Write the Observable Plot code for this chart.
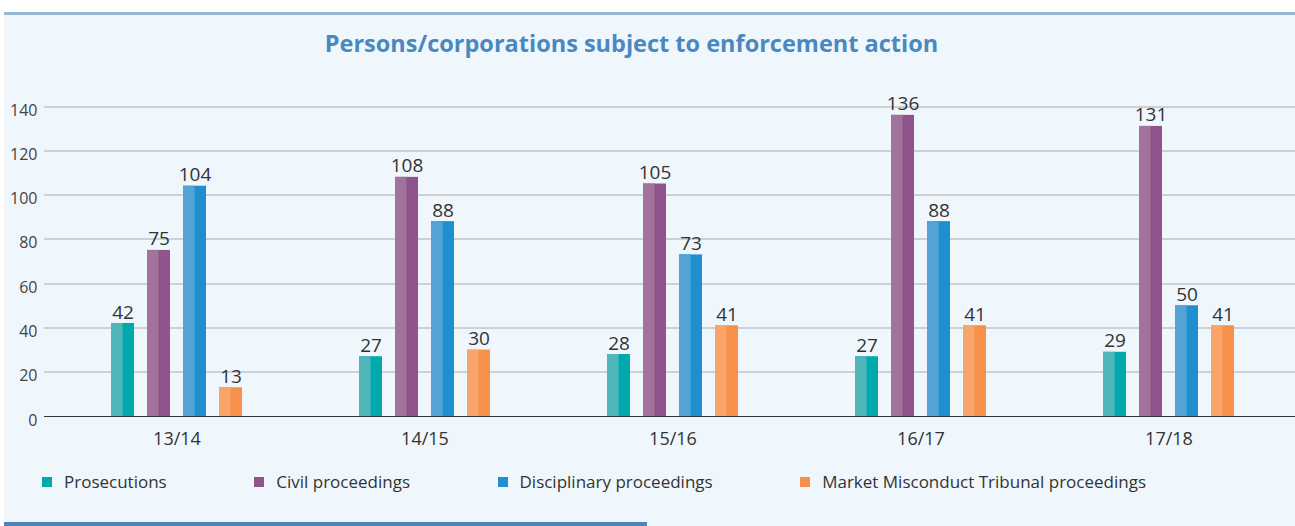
<!DOCTYPE html>
<html>
<head>
<meta charset="utf-8">
<script src="https://cdn.jsdelivr.net/npm/d3@7"></script>
<script src="https://cdn.jsdelivr.net/npm/@observablehq/plot@0.6"></script>
<style>
  html, body { margin: 0; padding: 0; background: #ffffff; }
  body { width: 1295px; height: 526px; position: relative; overflow: hidden; font-family: "Open Sans", sans-serif; }
  #panel { position: absolute; left: 4px; top: 12px; width: 1291px; height: 514px; background: #eff7fd; border-top: 3px solid #98b8d8; box-sizing: border-box; }
  #title { position: absolute; left: 0; top: 28px; width: 1263px; text-align: center; font-weight: 700; font-size: 23.5px; color: #4a88c0; line-height: 30px; }
  #chart { position: absolute; left: 4px; top: 80px; }
  #legend { position: absolute; left: 42px; top: 470px; display: flex; align-items: center; font-size: 17px; color: #333; }
  .item { display: flex; align-items: center; margin-right: 87.5px; }
  .sw { width: 10px; height: 10px; margin-right: 12px; }
  #bottomBar { position: absolute; left: 4px; top: 522px; width: 643px; height: 4px; background: #4a84bc; }
</style>
</head>
<body>
<div id="panel"></div>
<div id="title">Persons/corporations subject to enforcement action</div>
<div id="chart"></div>
<div id="legend"></div>
<div id="bottomBar"></div>
<script>
const years = ["13/14", "14/15", "15/16", "16/17", "17/18"];
const series = ["Prosecutions", "Civil proceedings", "Disciplinary proceedings", "Market Misconduct Tribunal proceedings"];
const prosecutions = [42, 27, 28, 27, 29];
const civil = [75, 108, 105, 136, 131];
const disciplinary = [104, 88, 73, 88, 50];
const mmt = [13, 30, 41, 41, 41];
const yTicks = [0, 20, 40, 60, 80, 100, 120, 140];
const darkColors = ["#00a9ac", "#8f548b", "#1f8fcf", "#f7904a"];
const lightColors = ["#4fb7b9", "#a0729c", "#53a3d9", "#f9a56a"];

const valuesBySeries = [prosecutions, civil, disciplinary, mmt];
const data = years.flatMap((yr, i) => series.map((s, j) => ({year: yr, series: s, value: valuesBySeries[j][i]})));

const darkBars = series.map((s, j) => Plot.barY(data.filter(d => d.series === s), {fx: "year", x: "series", y: "value", fill: darkColors[j]}));
const lightBars = series.map((s, j) => Plot.barY(data.filter(d => d.series === s), {fx: "year", x: "series", y: "value", fill: lightColors[j], insetRight: 11.5}));

const chart = Plot.plot({
  width: 1291,
  height: 380,
  marginTop: 26,
  marginBottom: 44,
  marginLeft: 48,
  marginRight: 2.5,
  style: {background: "transparent", fontFamily: "Open Sans, sans-serif", overflow: "visible"},
  fx: {domain: years, paddingInner: 0.367, paddingOuter: 0.18, label: null},
  x: {domain: series, padding: 0.36, axis: null},
  y: {domain: [0, 140], ticks: yTicks, label: null},
  marks: [
    Plot.ruleY(yTicks.slice(1), {stroke: "#cdd1d5", strokeWidth: 2, shapeRendering: "crispEdges", insetLeft: -54, insetRight: -54}),
    Plot.axisY(yTicks, {tickSize: 0, tickPadding: 61, dy: 4, fontSize: 16, color: "#444", label: null}),
    ...darkBars,
    ...lightBars,
    Plot.ruleY([0], {stroke: "#333", strokeWidth: 1.5, shapeRendering: "crispEdges", insetLeft: -54, insetRight: -54}),
    Plot.text(data, {fx: "year", x: "series", y: "value", text: "value", lineAnchor: "bottom", dy: -5, fontSize: 19, fill: "#333"}),
    Plot.axisFx({anchor: "bottom", tickSize: 0, tickPadding: 16, fontSize: 18, label: null, color: "#333"})
  ]
});
document.getElementById("chart").appendChild(chart);

const legend = document.getElementById("legend");
series.forEach((s, j) => {
  const item = document.createElement("div");
  item.className = "item";
  const sw = document.createElement("div");
  sw.className = "sw";
  sw.style.background = darkColors[j];
  const label = document.createElement("span");
  label.textContent = s;
  item.appendChild(sw);
  item.appendChild(label);
  legend.appendChild(item);
});
</script>
</body>
</html>
